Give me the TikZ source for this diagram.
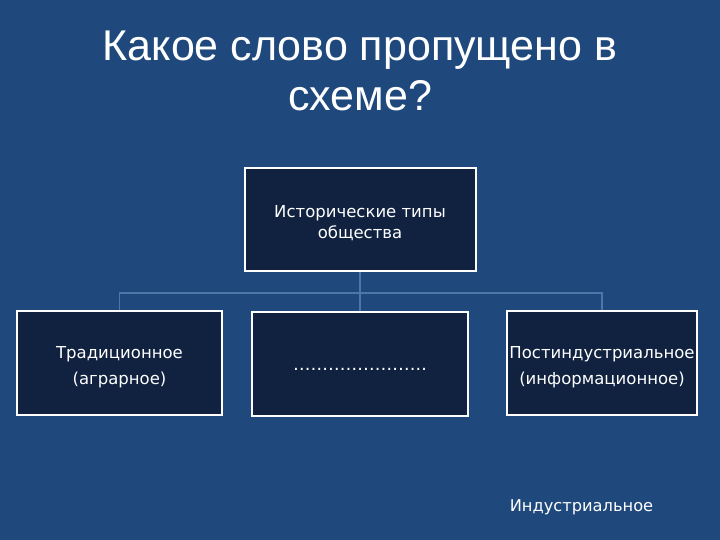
\documentclass[tikz,border=0pt]{standalone}
\usepackage{fontspec}
\setmainfont{Liberation Sans}
\newfontfamily\boxfont{DejaVu Sans}
\definecolor{slideblue}{HTML}{1F497D}
\definecolor{boxnavy}{HTML}{10223F}
\definecolor{linkblue}{HTML}{4D76A9}
\newcommand{\padtop}[1]{\rule{0pt}{#1}}
\tikzset{
  typebox/.style={draw=white, line width=2pt, fill=boxnavy, text=white,
    align=center, inner sep=0pt, font=\boxfont\fontsize{16.5}{26}\selectfont},
  link/.style={draw=linkblue, line width=1.8pt},
}
\begin{document}
\begin{tikzpicture}[x=1pt,y=-1pt]
                \fill[slideblue] (0,0) rectangle (720,540);
                \useasboundingbox (0,0) rectangle (720,540);
                % title
                \node[text=white, align=center, font=\fontsize{43}{50}\selectfont] (title) at (360,71)
                  {Какое слово пропущено в\\схеме?};
                % boxes
                \node[typebox, minimum width=231pt, minimum height=103pt,
                  font=\boxfont\fontsize{16.5}{21}\selectfont] (hist) at (360,219.5)
                  {\padtop{19pt}Исторические типы\\общества};
                \node[typebox, minimum width=205pt, minimum height=104pt] (trad) at (119.5,363)
                  {\padtop{20pt}Традиционное\\(аграрное)};
                \node[typebox, minimum width=216pt, minimum height=104pt] (gap) at (360,364)
                  {\rule[-7pt]{0pt}{26pt}\fontsize{17.5}{26}\selectfont…………………..};
                \node[typebox, minimum width=190pt, minimum height=104pt] (post) at (602,363)
                  {\padtop{20pt}Постиндустриальное\\(информационное)};
                % connectors
                \coordinate (bus) at (360,293);
                \draw[link] (hist.south) -- (bus) -| (trad.north);
                \draw[link] (bus) -| (post.north);
                \draw[link] (bus) -- (gap.north);
                % answer
                \node[text=white, font=\boxfont\fontsize{16.25}{18}\selectfont] (answer) at (581.5,507)
                  {Индустриальное};
\end{tikzpicture}
\end{document}
